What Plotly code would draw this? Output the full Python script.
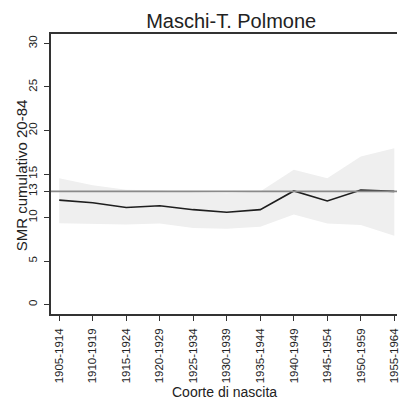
import plotly.graph_objects as go

# Birth cohorts and cumulative SMR (ages 20-84) with confidence band
cohorts = ["1905-1914", "1910-1919", "1915-1924", "1920-1929", "1925-1934",
           "1930-1939", "1935-1944", "1940-1949", "1945-1954", "1950-1959",
           "1955-1964"]
smr = [12.0, 11.7, 11.15, 11.35, 10.9, 10.6, 10.9, 13.05, 11.9, 13.15, 13.0]
ci_upper = [14.5, 13.7, 13.2, 13.1, 12.9, 12.8, 13.0, 15.5, 14.5, 17.0, 17.95]
ci_lower = [9.35, 9.3, 9.2, 9.3, 8.8, 8.7, 8.95, 10.35, 9.3, 9.15, 7.9]
reference = 13
y_ticks = [0, 5, 10, 13, 15, 20, 25, 30]

font_family = "Liberation Sans, Arial, Helvetica, sans-serif"
ink = "#222222"

fig = go.Figure()

# Confidence band
fig.add_trace(go.Scatter(x=cohorts, y=ci_upper, mode="lines",
                         line=dict(width=0, color="#ececec"),
                         hoverinfo="skip", showlegend=False))
fig.add_trace(go.Scatter(x=cohorts, y=ci_lower, mode="lines",
                         line=dict(width=0, color="#ececec"),
                         fill="tonexty", fillcolor="#efefef",
                         hoverinfo="skip", showlegend=False))

# Reference level
fig.add_hline(y=reference, line=dict(color="#8a8a8a", width=1.6))

# SMR line
fig.add_trace(go.Scatter(x=cohorts, y=smr, mode="lines",
                         line=dict(color="#1e1e1e", width=1.6),
                         showlegend=False))

fig.update_layout(
    width=400, height=400,
    margin=dict(l=51, r=0, t=34, b=86),
    paper_bgcolor="white", plot_bgcolor="white",
    font=dict(family=font_family, color=ink, size=11),
    title=dict(text="Maschi-T. Polmone", x=0.578, xanchor="center",
               y=0.948, yanchor="middle",
               font=dict(size=20, family=font_family, color=ink)),
)

fig.update_xaxes(
    type="category", range=[-0.245, 10.08],
    showline=True, linecolor="#333333", linewidth=1.5,
    mirror=True,
    ticks="outside", ticklen=5, tickwidth=1.2, tickcolor="#333333",
    tickangle=-90, tickfont=dict(size=11.5, color=ink),
    ticklabelstandoff=3,
    showgrid=False, zeroline=False,
)
fig.update_yaxes(
    range=[-1.09, 31.09],
    tickvals=y_ticks, ticktext=[str(v) for v in y_ticks],
    showline=True, linecolor="#333333", linewidth=1.5,
    mirror=False,
    ticks="outside", ticklen=5, tickwidth=1.2, tickcolor="#333333",
    tickangle=-90, tickfont=dict(size=11.5, color=ink),
    ticklabelstandoff=3,
    showgrid=False, zeroline=False,
)

# Axis titles
fig.add_annotation(text="SMR cumulativo 20-84", xref="paper", yref="paper",
                   x=-0.086, y=0.496, textangle=-90, showarrow=False,
                   xanchor="center", yanchor="middle",
                   font=dict(size=15, family=font_family, color=ink))
fig.add_annotation(text="Coorte di nascita", xref="paper", yref="paper",
                   x=0.502, y=-0.279, showarrow=False,
                   xanchor="center", yanchor="middle",
                   font=dict(size=14, family=font_family, color=ink))

fig.write_html("out.html")
